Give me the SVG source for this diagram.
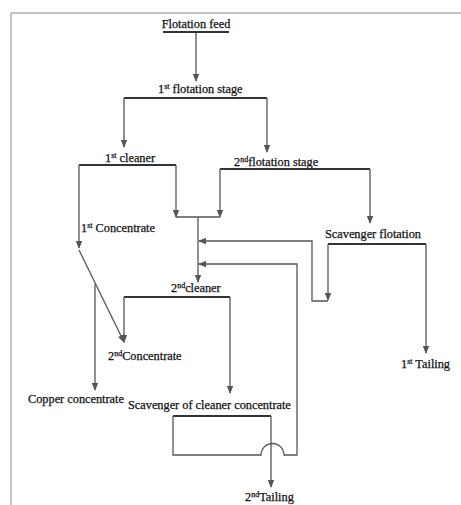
<svg xmlns="http://www.w3.org/2000/svg" width="461" height="505" viewBox="0 0 461 505">
<style>
text{font-family:"Liberation Serif","Times New Roman",serif;font-size:12.3px;fill:#111;stroke:#111;stroke-width:0.25}
.sup{font-size:8px}
.bar{stroke:#333;stroke-width:2.2;fill:none}
.c{stroke:#555;stroke-width:1.3;fill:none}
.a{marker-end:url(#ah)}
.frame{stroke:#888;stroke-width:1;fill:none}
</style>
<defs>
<marker id="ah" markerUnits="userSpaceOnUse" markerWidth="8" markerHeight="7" refX="7" refY="3.5" orient="auto">
<path d="M0,0.3 L8,3.5 L0,6.7 z" fill="#555"/>
</marker>
</defs>
<rect width="461" height="505" fill="#fff"/>
<path class="frame" d="M11,505 V13 H461"/>
<g id="nodes">
<g id="flotation-feed"><text x="196" y="28" text-anchor="middle">Flotation feed</text><line class="bar" x1="163" y1="32" x2="229" y2="32"/></g>
<g id="first-flotation"><text x="158" y="93">1<tspan class="sup" dy="-4">st</tspan><tspan dy="4"> flotation stage</tspan></text><line class="bar" x1="124" y1="98" x2="267" y2="98"/></g>
<g id="first-cleaner"><text x="105" y="162">1<tspan class="sup" dy="-4">st</tspan><tspan dy="4"> cleaner</tspan></text><line class="bar" x1="79" y1="165" x2="176" y2="165"/></g>
<g id="second-flotation"><text x="234" y="166">2<tspan class="sup" dy="-4">nd</tspan><tspan dy="4">flotation stage</tspan></text><line class="bar" x1="220" y1="169" x2="370" y2="169"/></g>
<g id="first-concentrate"><text x="81" y="232">1<tspan class="sup" dy="-4">st</tspan><tspan dy="4"> Concentrate</tspan></text></g>
<g id="scavenger-flotation"><text x="325" y="238">Scavenger flotation</text><line class="bar" x1="328" y1="244" x2="426" y2="244"/></g>
<g id="second-cleaner"><text x="171" y="292">2<tspan class="sup" dy="-4">nd</tspan><tspan dy="4">cleaner</tspan></text><line class="bar" x1="124" y1="297" x2="230" y2="297"/></g>
<g id="second-concentrate"><text x="108" y="360">2<tspan class="sup" dy="-4">nd</tspan><tspan dy="4">Concentrate</tspan></text></g>
<g id="first-tailing"><text x="401" y="368">1<tspan class="sup" dy="-4">st</tspan><tspan dy="4"> Tailing</tspan></text></g>
<g id="copper-concentrate"><text x="28" y="403">Copper concentrate</text></g>
<g id="scavenger-cleaner"><text x="128" y="409">Scavenger of cleaner concentrate</text><line class="bar" x1="173" y1="416" x2="271" y2="416"/></g>
<g id="second-tailing"><text x="245" y="501">2<tspan class="sup" dy="-4">nd</tspan><tspan dy="4">Tailing</tspan></text></g>
</g>
<g id="connectors">
<path class="c a" d="M196,33 V81"/>
<path class="c a" d="M124,98 V147"/>
<path class="c a" d="M267,98 V152"/>
<path class="c a" d="M79,165 V248"/>
<path class="c a" d="M79,250 L124,342"/>
<path class="c a" d="M95,284 V390"/>
<path class="c a" d="M176,165 V217"/>
<path class="c a" d="M220,169 V217"/>
<path class="c" d="M176,217 H220"/>
<path class="c a" d="M198,217 V282"/>
<path class="c a" d="M370,169 V223"/>
<path class="c a" d="M328,244 V300"/>
<path class="c a" d="M328,301 H312 V241 H199"/>
<path class="c a" d="M124,297 V342"/>
<path class="c a" d="M230,297 V393"/>
<path class="c a" d="M426,244 V353"/>
<path class="c a" d="M271,416 V487"/>
<path class="c a" d="M173,416 V455 H261 A11.5,11.5 0 0 1 284,455 H297 V264 H199"/>
</g>
</svg>
